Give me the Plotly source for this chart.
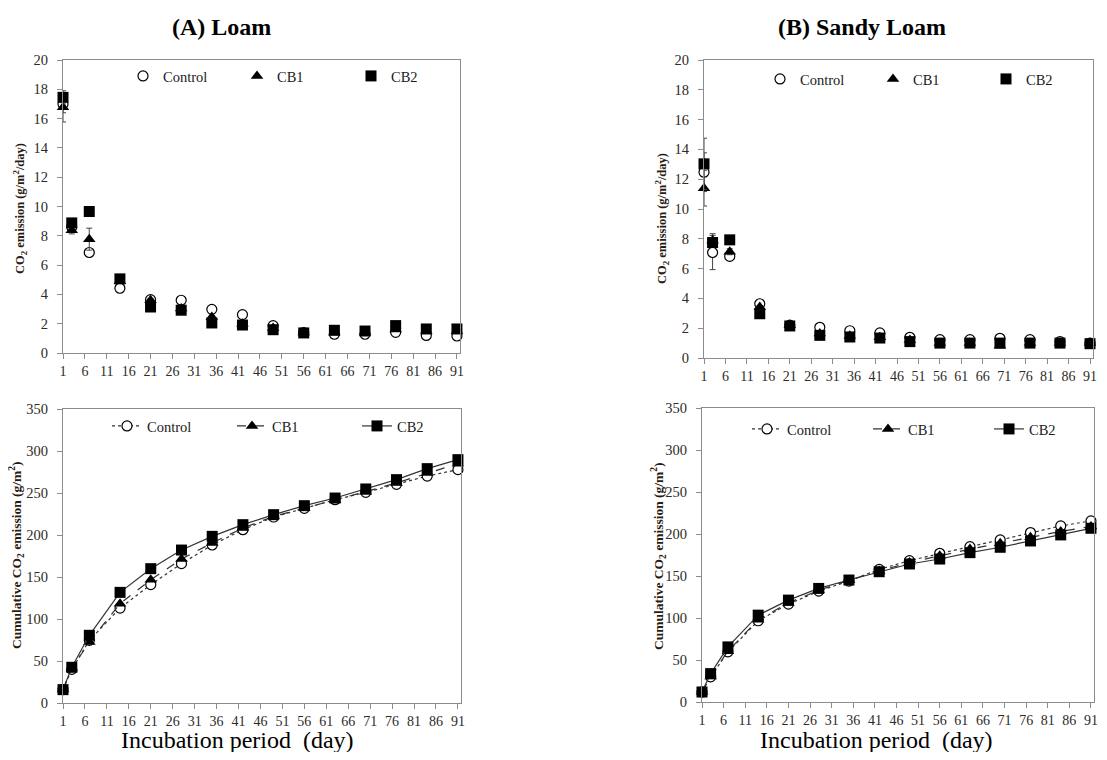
import plotly.graph_objects as go

days = [1, 3, 7, 14, 21, 28, 35, 42, 49, 56, 63, 70, 77, 84, 91]
series_names = ["Control", "CB1", "CB2"]
panel_titles = ["(A) Loam", "(B) Sandy Loam"]

# (A) Loam - daily CO2 emission (g/m2/day)
loam_rate_control = [17.0, 8.6, 6.86, 4.42, 3.64, 3.60, 2.98, 2.62, 1.87, 1.40, 1.28, 1.28, 1.41, 1.20, 1.16]
loam_rate_cb1 = [16.77, 8.38, 7.77, 4.90, 3.60, 3.03, 2.46, 2.00, 1.70, 1.40, 1.40, 1.40, 1.60, 1.50, 1.50]
loam_rate_cb2 = [17.45, 8.88, 9.66, 5.06, 3.14, 2.92, 2.05, 1.91, 1.59, 1.37, 1.55, 1.50, 1.87, 1.64, 1.64]
loam_err_control = [0.6, 0.2, 0.2, 0.1, 0.1, 0.1, 0.1, 0.1, 0.05, 0.05, 0.05, 0.05, 0.05, 0.05, 0.05]
loam_err_cb1 = [1.0, 0.25, 0.75, 0.1, 0.1, 0.1, 0.1, 0.1, 0.05, 0.05, 0.05, 0.05, 0.05, 0.05, 0.05]
loam_err_cb2 = [0.45, 0.2, 0.15, 0.15, 0.1, 0.1, 0.1, 0.1, 0.05, 0.05, 0.05, 0.05, 0.05, 0.05, 0.05]

# (B) Sandy Loam - daily CO2 emission (g/m2/day)
sandy_rate_control = [12.47, 7.08, 6.82, 3.64, 2.20, 2.06, 1.83, 1.68, 1.39, 1.23, 1.23, 1.32, 1.23, 1.10, 1.00]
sandy_rate_cb1 = [11.40, 7.89, 7.13, 3.42, 2.20, 1.65, 1.50, 1.40, 1.20, 1.00, 1.00, 0.83, 1.00, 1.00, 1.00]
sandy_rate_cb2 = [13.03, 7.75, 7.93, 2.97, 2.15, 1.52, 1.41, 1.34, 1.10, 1.00, 1.00, 1.00, 1.00, 1.00, 0.96]
sandy_err_control = [1.3, 1.15, 0.2, 0.1, 0.1, 0.1, 0.05, 0.05, 0.05, 0.05, 0.05, 0.05, 0.05, 0.05, 0.05]
sandy_err_cb1 = [1.2, 0.45, 0.2, 0.1, 0.1, 0.1, 0.05, 0.05, 0.05, 0.05, 0.05, 0.05, 0.05, 0.05, 0.05]
sandy_err_cb2 = [1.72, 0.3, 0.1, 0.1, 0.1, 0.05, 0.05, 0.05, 0.05, 0.05, 0.05, 0.05, 0.05, 0.05, 0.05]

# (A) Loam - cumulative CO2 emission (g/m2)
loam_cum_control = [16.0, 40.0, 74.6, 113.0, 140.9, 165.9, 188.1, 206.3, 221.4, 231.7, 242.0, 250.8, 260.3, 270.2, 277.8]
loam_cum_cb1 = [16.0, 41.0, 72.6, 118.3, 146.8, 171.4, 190.5, 208.3, 222.2, 232.0, 241.3, 251.6, 262.0, 273.8, 284.9]
loam_cum_cb2 = [15.9, 42.5, 80.6, 131.7, 159.9, 182.1, 198.4, 212.3, 224.2, 234.9, 244.0, 254.8, 265.9, 279.0, 289.7]

# (B) Sandy Loam - cumulative CO2 emission (g/m2)
sandy_cum_control = [12.0, 30.0, 59.7, 96.7, 116.5, 132.0, 144.0, 157.9, 168.3, 177.0, 185.0, 192.9, 201.7, 209.6, 215.6]
sandy_cum_cb1 = [12.0, 30.5, 60.5, 98.0, 118.0, 133.0, 145.0, 156.0, 166.0, 174.0, 182.0, 189.0, 196.0, 203.0, 209.0]
sandy_cum_cb2 = [11.9, 33.8, 65.6, 103.4, 121.3, 135.2, 145.2, 155.1, 164.3, 170.2, 177.8, 184.2, 191.7, 198.9, 206.8]

SERIF = "Liberation Serif, Times New Roman, serif"
INK = "#1a1a1a"
LINE = "#333333"
AXIS = "#8c8c8c"
TICKC = "#2e2a26"

# the page body has an 8px margin on every side; keep the figure inside it
OFF = 8
W, H = 1107 - 2 * OFF, 760 - 2 * OFF

def px_x(p):
    return (p - OFF) / W

def px_y(p):
    return 1 - (p - OFF) / H

symbols = {
    "Control": dict(symbol="circle", color="white", size=10, line=dict(color="black", width=1.2)),
    "CB1": dict(symbol="triangle-up", color="black", size=11, line=dict(color="black", width=0)),
    "CB2": dict(symbol="square", color="black", size=11, line=dict(color="black", width=0)),
}
dashes = {"Control": "dot", "CB1": "dash", "CB2": "solid"}

fig = go.Figure()

panels = [
    ("x", "y", "legend", [loam_rate_control, loam_rate_cb1, loam_rate_cb2],
     [loam_err_control, loam_err_cb1, loam_err_cb2], True),
    ("x2", "y2", "legend2", [sandy_rate_control, sandy_rate_cb1, sandy_rate_cb2],
     [sandy_err_control, sandy_err_cb1, sandy_err_cb2], True),
    ("x3", "y3", "legend3", [loam_cum_control, loam_cum_cb1, loam_cum_cb2], None, False),
    ("x4", "y4", "legend4", [sandy_cum_control, sandy_cum_cb1, sandy_cum_cb2], None, False),
]

for xa, ya, lg, data, errs, is_rate in panels:
    for i, name in enumerate(series_names):
        m = dict(symbols[name])
        kw = {}
        if is_rate:
            kw["mode"] = "markers"
            kw["error_y"] = dict(type="data", array=errs[i], visible=True,
                                 color="#444444", thickness=1, width=3)
        else:
            kw["mode"] = "lines+markers"
            kw["line"] = dict(color=LINE, width=1.2, dash=dashes[name])
        fig.add_trace(go.Scatter(
            x=days, y=data[i], name=name, marker=m,
            xaxis=xa, yaxis=ya, legend=lg, cliponaxis=False, **kw))

# panel geometry in window pixels: (left, right, top, bottom)
geo = {
    "1": (63, 460, 60, 353),
    "2": (704, 1093, 60, 358),
    "3": (63, 461, 409, 703),
    "4": (702, 1094, 408, 702),
}

xtickfont = dict(family=SERIF, size=14, color=TICKC)
ytickfont = dict(family=SERIF, size=14.5, color=TICKC)
layout = {}
for k, (l, r, t, b) in geo.items():
    sfx = "" if k == "1" else k
    is_rate = k in ("1", "2")
    layout["xaxis" + sfx] = dict(
        domain=[px_x(l), min(1.0, px_x(r))], anchor="y" + sfx, range=[1, 91.7],
        tick0=1, dtick=5, ticks="outside", ticklen=5, tickcolor=AXIS,
        showline=True, linecolor=AXIS, linewidth=1, mirror=True,
        showgrid=False, zeroline=False, tickfont=xtickfont,
        ticklabeloverflow="allow",
    )
    layout["yaxis" + sfx] = dict(
        domain=[px_y(b), px_y(t)], anchor="x" + sfx,
        range=[0, 20] if is_rate else [0, 350], dtick=2 if is_rate else 50,
        ticks="outside", ticklen=5, tickcolor=AXIS,
        showline=True, linecolor=AXIS, linewidth=1, mirror=True,
        showgrid=False, zeroline=False, tickfont=ytickfont,
        ticklabelstandoff=6,
    )

legfont = dict(family=SERIF, size=14.5, color=INK)
# (left px, centre y px, entry text width px)
legend_pos = {
    "legend": (123, 76, 69),
    "legend2": (760, 79, 68),
    "legend3": (107, 426, 80),
    "legend4": (747, 429, 76),
}
for lg, (lx, ly, ew) in legend_pos.items():
    layout[lg] = dict(
        orientation="h", x=px_x(lx), y=px_y(ly), xanchor="left", yanchor="middle",
        xref="paper", yref="paper", bgcolor="rgba(0,0,0,0)", font=legfont,
        entrywidth=ew, entrywidthmode="pixels", itemwidth=30, tracegroupgap=0,
        borderwidth=0,
    )

annotations = []
for cx, txt in [(221, panel_titles[0]), (862, panel_titles[1])]:
    annotations.append(dict(text="<b>" + txt + "</b>", x=px_x(cx), y=px_y(27),
                            xref="paper", yref="paper", showarrow=False,
                            xanchor="center", yanchor="middle",
                            font=dict(family=SERIF, size=24, color="black")))
for cx in (237, 876):
    annotations.append(dict(text="Incubation period  (day)", x=px_x(cx), y=px_y(740),
                            xref="paper", yref="paper", showarrow=False,
                            xanchor="center", yanchor="middle",
                            font=dict(family=SERIF, size=24, color="black")))
ytitle_rate = "<b>CO<sub>2</sub> emission (g/m<sup>2</sup>/day)</b>"
ytitle_cum = "<b>Cumulative CO<sub>2</sub> emission (g/m<sup>2</sup>)</b>"
for cx, cy, txt, fs in [(20, 209, ytitle_rate, 12.5), (662, 219, ytitle_rate, 12.5),
                        (16, 555, ytitle_cum, 13.5), (658, 556, ytitle_cum, 13.5)]:
    annotations.append(dict(text=txt, x=px_x(cx), y=px_y(cy), xref="paper", yref="paper",
                            showarrow=False, textangle=-90,
                            xanchor="center", yanchor="middle",
                            font=dict(family=SERIF, size=fs, color="#2a1a10")))

fig.update_layout(
    width=W, height=H, margin=dict(l=0, r=0, t=0, b=0, autoexpand=False),
    paper_bgcolor="white", plot_bgcolor="white",
    annotations=annotations, showlegend=True, **layout,
)

fig.write_html("out.html")
